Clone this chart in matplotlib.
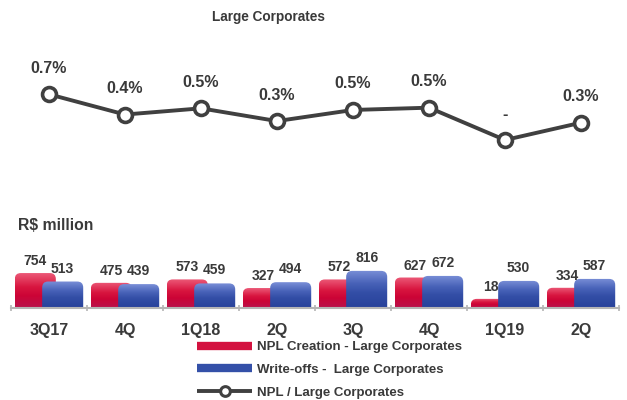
import numpy as np
import matplotlib
matplotlib.use("Agg")
import matplotlib.pyplot as plt
from matplotlib.patches import FancyBboxPatch
from matplotlib.lines import Line2D
from matplotlib.colors import LinearSegmentedColormap
from matplotlib import font_manager

# ---------------- data ----------------
categories = ["3Q17", "4Q", "1Q18", "2Q", "3Q", "4Q", "1Q19", "2Q"]
npl_creation = [754, 475, 573, 327, 572, 627, 18, 334]
write_offs = [513, 439, 459, 494, 816, 672, 530, 587]
npl_ratio = [0.70, 0.39, 0.485, 0.29, 0.46, 0.495, 0.0, 0.265]
npl_labels = ["0.7%", "0.4%", "0.5%", "0.3%", "0.5%", "0.5%", "-", "0.3%"]

plt.rcParams['font.family'] = ['Liberation Sans', 'DejaVu Sans']
TXT = "#3a3a3a"
LINE = "#404040"

W, H = 627, 400
fig = plt.figure(figsize=(W / 100, H / 100), dpi=100)

def frac_rect(x0, y_top, x1, y_bot):
    return [x0 / W, 1 - y_bot / H, (x1 - x0) / W, (y_bot - y_top) / H]

x = np.arange(len(categories))
XLIM = (-0.5, len(categories) - 0.5)

# ---------------- line chart ----------------
axl = fig.add_axes(frac_rect(11, 60, 619, 150))
axl.plot(x, npl_ratio, color=LINE, lw=2.8, marker='o', ms=10,
         mfc='white', mec=LINE, mew=2.6, zorder=3)
for xi, yi, lab in zip(x, npl_ratio, npl_labels):
    axl.annotate(lab, (xi, yi), xytext=(0, 26), textcoords='offset pixels',
                 ha='center', va='center', fontsize=11.5, fontweight='bold',
                 color=TXT)
axl.set_xlim(*XLIM)
axl.set_ylim(-0.153, 1.225)
axl.axis('off')

# ---------------- bar chart ----------------
axb = fig.add_axes(frac_rect(11, 240, 619, 308))
FLOOR = -242
YTOP = 1696
axb.set_xlim(*XLIM)
axb.set_ylim(FLOOR, YTOP)

bw = 0.54
off = 0.18
red_cmap = LinearSegmentedColormap.from_list(
    "r", [(0, "#b8124c"), (0.35, "#cc0436"), (0.6, "#d8153f"), (1, "#ec5a78")])
blue_cmap = LinearSegmentedColormap.from_list(
    "b", [(0, "#27419a"), (0.4, "#334ea6"), (0.65, "#4862b8"), (1, "#7b90d8")])

px_per_x = 608 / (XLIM[1] - XLIM[0])
px_per_y = 68 / (YTOP - FLOOR)
aspect = (1 / px_per_y) / (1 / px_per_x)
r_px = 6

def draw_bars(xs, vals, cmap, z):
    bars = axb.bar(xs, np.array(vals) - FLOOR, bottom=FLOOR, width=bw,
                   color='none', zorder=z)
    grad = np.linspace(0, 1, 256).reshape(-1, 1)
    for b in bars:
        bx, by = b.get_x(), b.get_y()
        bwid, bh = b.get_width(), b.get_height()
        ext = 400  # extend below floor so bottom corners are clipped
        p = FancyBboxPatch((bx, by - ext), bwid, bh + ext,
                           boxstyle=f"round,pad=0,rounding_size={r_px / px_per_x}",
                           mutation_aspect=aspect, fc='none', ec='none',
                           zorder=z)
        axb.add_patch(p)
        im = axb.imshow(grad, extent=(bx, bx + bwid, by, by + bh),
                        origin='lower', aspect='auto', cmap=cmap,
                        zorder=z, interpolation='bilinear')
        im.set_clip_path(p)
    return bars

rb = draw_bars(x - off, npl_creation, red_cmap, 1)
bb = draw_bars(x + off, write_offs, blue_cmap, 2)
for b, v in zip(rb, npl_creation):
    axb.annotate(str(v), (b.get_x() + b.get_width() / 2, v), xytext=(0, 12),
                 textcoords='offset pixels', ha='center', va='center',
                 fontsize=10, fontweight='bold', color=TXT)
for b, v in zip(bb, write_offs):
    axb.annotate(str(v), (b.get_x() + b.get_width() / 2, v), xytext=(0, 13),
                 textcoords='offset pixels', ha='center', va='center',
                 fontsize=10, fontweight='bold', color=TXT)

axb.set_xlim(*XLIM)
axb.set_ylim(FLOOR, YTOP)
for s in ['top', 'right', 'left']:
    axb.spines[s].set_visible(False)
axb.spines['bottom'].set_color('#b5b5b5')
axb.spines['bottom'].set_linewidth(1.5)
axb.spines['bottom'].set_zorder(5)
axb.set_yticks([])
axb.set_xticks(x)
axb.set_xticklabels(categories, fontsize=11.5, fontweight='bold', color=TXT)
axb.tick_params(axis='x', which='major', length=0, pad=11)
axb.set_xticks(np.arange(XLIM[0], XLIM[1] + 0.01, 1), minor=True)
axb.tick_params(axis='x', which='minor', length=4, width=1.2, color='#b5b5b5',
                direction='inout')

# ---------------- texts ----------------
names = {f.name for f in font_manager.fontManager.ttflist}
if 'Liberation Sans Narrow' in names:
    title_family, title_size = ['Liberation Sans Narrow', 'DejaVu Sans'], 12
else:
    title_family, title_size = ['Liberation Sans', 'DejaVu Sans'], 9.8
fig.text(268 / W, 1 - 17 / H, "Large Corporates", ha='center', va='center',
         fontsize=title_size, fontweight='bold', color=TXT, family=title_family)
fig.text(18 / W, 1 - 226 / H, "R$ million", ha='left', va='center',
         fontsize=11.3, fontweight='bold', color=TXT)

# ---------------- legend ----------------
handles = [
    Line2D([], [], color='#d3123f', lw=6, solid_capstyle='butt'),
    Line2D([], [], color='#3450a8', lw=6, solid_capstyle='butt'),
    Line2D([], [], color=LINE, lw=2.8, marker='o', ms=7, mfc='white',
           mec=LINE, mew=2.2, solid_capstyle='butt'),
]
labels = ["NPL Creation - Large Corporates", "Write-offs -  Large Corporates",
          "NPL / Large Corporates"]
leg = fig.legend(handles, labels, loc='upper left',
                 bbox_to_anchor=(197 / W, 1 - 341 / H), frameon=False,
                 borderpad=0, borderaxespad=0, handlelength=4.2,
                 handletextpad=0.35, labelspacing=0.8,
                 prop={'size': 9.5, 'weight': 'bold'})
for t in leg.get_texts():
    t.set_color(TXT)

fig.savefig("out.png", dpi=100, facecolor='white')
